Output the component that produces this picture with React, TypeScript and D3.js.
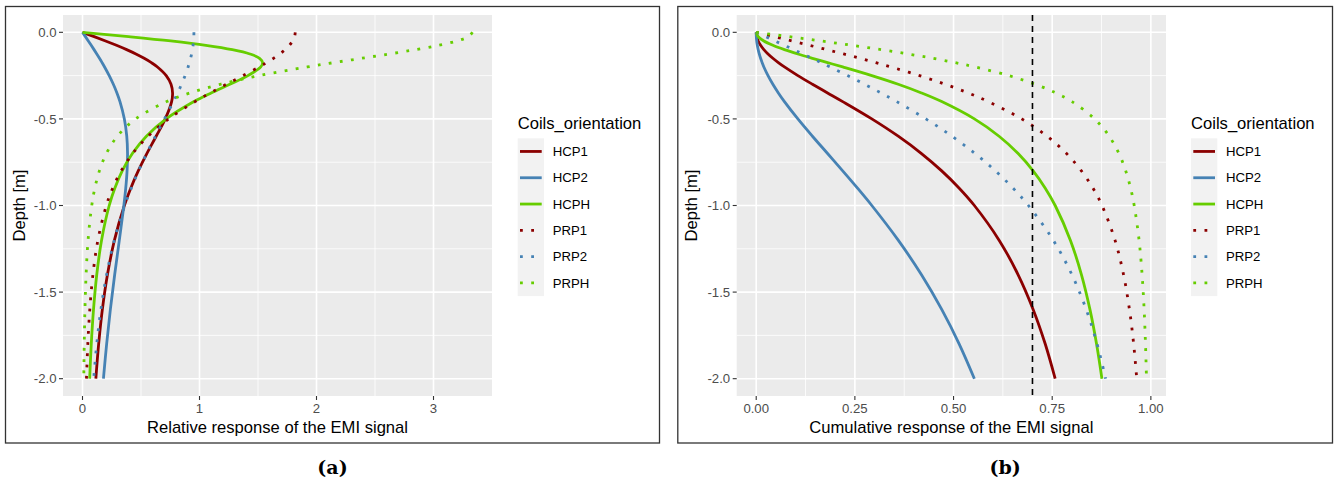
import React from "react";
import * as d3 from "d3";

// depth of each sample (m), shared by every series
const depth = [0, -0.025, -0.05, -0.075, -0.1, -0.125, -0.15, -0.175, -0.2, -0.25, -0.3, -0.35, -0.4, -0.5, -0.6, -0.7, -0.8, -0.9, -1.0, -1.2, -1.4, -1.6, -1.8, -2.0];

const seriesNames = ["HCP1", "HCP2", "HCPH", "PRP1", "PRP2", "PRPH"];
const seriesColors = ["#8B0000", "#4682B4", "#66CD00", "#8B0000", "#4682B4", "#66CD00"];
const seriesDotted = [false, false, false, true, true, true];

// (a) relative response
const relHCP1 = [0, 0.0996, 0.197, 0.2902, 0.3772, 0.4565, 0.5272, 0.5886, 0.6403, 0.7155, 0.7566, 0.7698, 0.7618, 0.7071, 0.6297, 0.5498, 0.4764, 0.4123, 0.3578, 0.2731, 0.2131, 0.1698, 0.138, 0.1141];
const relHCP2 = [0, 0.025, 0.0498, 0.0744, 0.0985, 0.1221, 0.1451, 0.1673, 0.1886, 0.2283, 0.2636, 0.2943, 0.3202, 0.3578, 0.3783, 0.3849, 0.3809, 0.3696, 0.3536, 0.3148, 0.2749, 0.2382, 0.2062, 0.1789];
const relHCPH = [0, 0.3941, 0.7543, 1.0545, 1.2807, 1.4311, 1.5132, 1.5395, 1.5237, 1.4142, 1.2594, 1.0996, 0.9528, 0.7155, 0.5462, 0.4261, 0.3397, 0.2761, 0.2283, 0.1629, 0.1217, 0.0942, 0.075, 0.0611];
const relPRP1 = [1.8182, 1.8126, 1.7959, 1.7686, 1.7316, 1.6859, 1.6327, 1.5733, 1.5092, 1.3718, 1.2302, 1.0918, 0.9617, 0.7366, 0.561, 0.4288, 0.3306, 0.2578, 0.2035, 0.1315, 0.0889, 0.0625, 0.0454, 0.0339];
const relPRP2 = [0.9524, 0.9516, 0.9492, 0.9451, 0.9396, 0.9325, 0.924, 0.914, 0.9028, 0.8768, 0.8466, 0.8132, 0.7772, 0.7009, 0.6234, 0.5486, 0.4793, 0.4169, 0.3616, 0.272, 0.2057, 0.1573, 0.1218, 0.0957];
const relPRPH = [3.3333, 3.2989, 3.1991, 3.0436, 2.8461, 2.6218, 2.3851, 2.1483, 1.9201, 1.5113, 1.1785, 0.9188, 0.72, 0.454, 0.2981, 0.2038, 0.1443, 0.1054, 0.0791, 0.0476, 0.0307, 0.0209, 0.0148, 0.0109];

// (b) cumulative response
const cumHCP1 = [0, 0.0012, 0.005, 0.0111, 0.0194, 0.0299, 0.0422, 0.0561, 0.0715, 0.1056, 0.1425, 0.1808, 0.2191, 0.2929, 0.3598, 0.4188, 0.47, 0.5144, 0.5528, 0.6154, 0.6637, 0.7017, 0.7324, 0.7575];
const cumHCP2 = [0, 0.0003, 0.0012, 0.0028, 0.005, 0.0077, 0.0111, 0.015, 0.0194, 0.0299, 0.0422, 0.0561, 0.0715, 0.1056, 0.1425, 0.1808, 0.2191, 0.2567, 0.2929, 0.3598, 0.4188, 0.47, 0.5144, 0.5528];
const cumHCPH = [0, 0.005, 0.0194, 0.0422, 0.0715, 0.1056, 0.1425, 0.1808, 0.2191, 0.2929, 0.3598, 0.4188, 0.47, 0.5528, 0.6154, 0.6637, 0.7017, 0.7324, 0.7575, 0.796, 0.8242, 0.8456, 0.8624, 0.876];
const cumPRP1 = [0, 0.0454, 0.0905, 0.1351, 0.1789, 0.2216, 0.2631, 0.3032, 0.3417, 0.4138, 0.4789, 0.5369, 0.5882, 0.6727, 0.7372, 0.7863, 0.824, 0.8533, 0.8762, 0.9091, 0.9308, 0.9457, 0.9564, 0.9642];
const cumPRP2 = [0, 0.0238, 0.0476, 0.0712, 0.0948, 0.1182, 0.1414, 0.1644, 0.1871, 0.2316, 0.2747, 0.3162, 0.356, 0.4299, 0.4961, 0.5547, 0.606, 0.6508, 0.6897, 0.7526, 0.8, 0.8361, 0.8638, 0.8854];
const cumPRPH = [0, 0.083, 0.1644, 0.2425, 0.3162, 0.3846, 0.4472, 0.5039, 0.5547, 0.6402, 0.7071, 0.7593, 0.8, 0.8575, 0.8944, 0.9191, 0.9363, 0.9487, 0.9578, 0.9701, 0.9778, 0.9829, 0.9864, 0.9889];

const yTicks = [0, -0.5, -1, -1.5, -2];
const relTicks = [0, 1, 2, 3];
const cumTicks = [0, 0.25, 0.5, 0.75, 1];
const threshold = 0.7;

const SANS = "'Liberation Sans', Arial, sans-serif";
const PANEL_TOP = 15;
const PANEL_BOTTOM = 396;

type PanelProps = {
  values: number[][];
  xTicks: number[];
  digits: number;
  xTitle: string;
  tag: string;
  frameX0: number;
  frameX1: number;
  plotX0: number;
  plotX1: number;
  legendX: number;
  vline?: number;
};

const Panel = ({ values, xTicks, digits, xTitle, tag, frameX0, frameX1, plotX0, plotX1, legendX, vline }: PanelProps) => {
  const all = values.flat();
  const xmin = d3.min(all) as number;
  const xmax = d3.max(all) as number;
  const xpad = (xmax - xmin) * 0.05;
  const x = d3.scaleLinear().domain([xmin - xpad, xmax + xpad]).range([plotX0, plotX1]);

  const ymin = d3.min(depth) as number;
  const ymax = d3.max(depth) as number;
  const ypad = (ymax - ymin) * 0.05;
  const y = d3.scaleLinear().domain([ymax + ypad, ymin - ypad]).range([PANEL_TOP, PANEL_BOTTOM]);

  const [dx0, dx1] = x.domain();
  const xMinor = d3.range(xTicks.length + 1)
    .map((i) => (i === 0 ? xTicks[0] - (xTicks[1] - xTicks[0]) / 2 : i === xTicks.length ? xTicks[i - 1] + (xTicks[1] - xTicks[0]) / 2 : (xTicks[i - 1] + xTicks[i]) / 2))
    .filter((v) => v > dx0 && v < dx1 - 1e-6);
  const yMinor = d3.range(yTicks.length - 1).map((i) => (yTicks[i] + yTicks[i + 1]) / 2);

  const line = d3
    .line<number>()
    .x((v) => x(v))
    .y((v, i) => y(depth[i]))
    .curve(d3.curveCatmullRom.alpha(0.5));

  const plotW = plotX1 - plotX0;
  const plotH = PANEL_BOTTOM - PANEL_TOP;
  const yAxisX = plotX0;
  const keyTop = 138.3;
  const keyH = 26.3;

  return (
    <g>
      <rect x={frameX0} y={6.5} width={frameX1 - frameX0} height={436.5} fill="white" stroke="#333" strokeWidth={1.3} />
      <rect x={plotX0} y={PANEL_TOP} width={plotW} height={plotH} fill="#EBEBEB" />
      {xMinor.map((v) => (
        <line key={"xm" + v} x1={x(v)} x2={x(v)} y1={PANEL_TOP} y2={PANEL_BOTTOM} stroke="white" strokeWidth={0.8} />
      ))}
      {yMinor.map((v) => (
        <line key={"ym" + v} x1={plotX0} x2={plotX1} y1={y(v)} y2={y(v)} stroke="white" strokeWidth={0.8} />
      ))}
      {xTicks.map((v) => (
        <line key={"xg" + v} x1={x(v)} x2={x(v)} y1={PANEL_TOP} y2={PANEL_BOTTOM} stroke="white" strokeWidth={1.6} />
      ))}
      {yTicks.map((v) => (
        <line key={"yg" + v} x1={plotX0} x2={plotX1} y1={y(v)} y2={y(v)} stroke="white" strokeWidth={1.6} />
      ))}

      {values.map((vals, i) => (
        <path
          key={seriesNames[i]}
          d={line(vals) || ""}
          fill="none"
          stroke={seriesColors[i]}
          strokeWidth={2.8}
          strokeDasharray={seriesDotted[i] ? "2.8,8.4" : undefined}
          strokeLinecap="butt"
        />
      ))}

      {vline !== undefined && (
        <line x1={x(vline)} x2={x(vline)} y1={PANEL_TOP} y2={PANEL_BOTTOM} stroke="black" strokeWidth={1.6} strokeDasharray="6,5" />
      )}

      {/* axes */}
      {xTicks.map((v) => (
        <g key={"xt" + v}>
          <line x1={x(v)} x2={x(v)} y1={PANEL_BOTTOM} y2={PANEL_BOTTOM + 4} stroke="#333" strokeWidth={1.1} />
          <text x={x(v)} y={413} textAnchor="middle" fontFamily={SANS} fontSize={13.2} fill="#4D4D4D">
            {v.toFixed(digits)}
          </text>
        </g>
      ))}
      {yTicks.map((v) => (
        <g key={"yt" + v}>
          <line x1={yAxisX - 4} x2={yAxisX} y1={y(v)} y2={y(v)} stroke="#333" strokeWidth={1.1} />
          <text x={yAxisX - 6.5} y={y(v) + 4.7} textAnchor="end" fontFamily={SANS} fontSize={13.2} fill="#4D4D4D">
            {v.toFixed(1)}
          </text>
        </g>
      ))}
      <text x={(plotX0 + plotX1) / 2} y={432.5} textAnchor="middle" fontFamily={SANS} fontSize={16.6} fill="black">
        {xTitle}
      </text>
      <text
        transform={`translate(${frameX0 + 19.5},${(PANEL_TOP + PANEL_BOTTOM) / 2}) rotate(-90)`}
        textAnchor="middle"
        fontFamily={SANS}
        fontSize={16.6}
        fill="black"
      >
        Depth [m]
      </text>

      {/* legend */}
      <text x={legendX} y={129} fontFamily={SANS} fontSize={16.6} fill="black">
        Coils_orientation
      </text>
      <rect x={legendX} y={keyTop} width={26.3} height={keyH * seriesNames.length} fill="#F2F2F2" />
      {seriesNames.map((name, i) => {
        const cy = keyTop + keyH * i + keyH / 2;
        return (
          <g key={"lg" + name}>
            <line
              x1={legendX + 2.3}
              x2={legendX + 24}
              y1={cy}
              y2={cy}
              stroke={seriesColors[i]}
              strokeWidth={2.8}
              strokeDasharray={seriesDotted[i] ? "2.8,8.4" : undefined}
            />
            <text x={legendX + 35} y={cy + 4.6} fontFamily={SANS} fontSize={13.2} fill="black">
              {name}
            </text>
          </g>
        );
      })}

      <text x={(frameX0 + frameX1) / 2} y={474} textAnchor="middle" fontFamily="'DejaVu Serif', serif" fontWeight="bold" fontSize={19}>
        {tag}
      </text>
    </g>
  );
};

export default function App() {
  const relValues = [relHCP1, relHCP2, relHCPH, relPRP1, relPRP2, relPRPH];
  const cumValues = [cumHCP1, cumHCP2, cumHCPH, cumPRP1, cumPRP2, cumPRPH];
  return (
    <svg width={1337} height={484} style={{ position: "absolute", left: 0, top: 0, background: "white" }}>
      <Panel
        values={relValues}
        xTicks={relTicks}
        digits={0}
        xTitle="Relative response of the EMI signal"
        tag="(a)"
        frameX0={5.5}
        frameX1={659.5}
        plotX0={63}
        plotX1={492}
        legendX={517.7}
      />
      <Panel
        values={cumValues}
        xTicks={cumTicks}
        digits={2}
        xTitle="Cumulative response of the EMI signal"
        tag="(b)"
        frameX0={677.8}
        frameX1={1332.5}
        plotX0={736.7}
        plotX1={1166}
        legendX={1191}
        vline={threshold}
      />
    </svg>
  );
}
